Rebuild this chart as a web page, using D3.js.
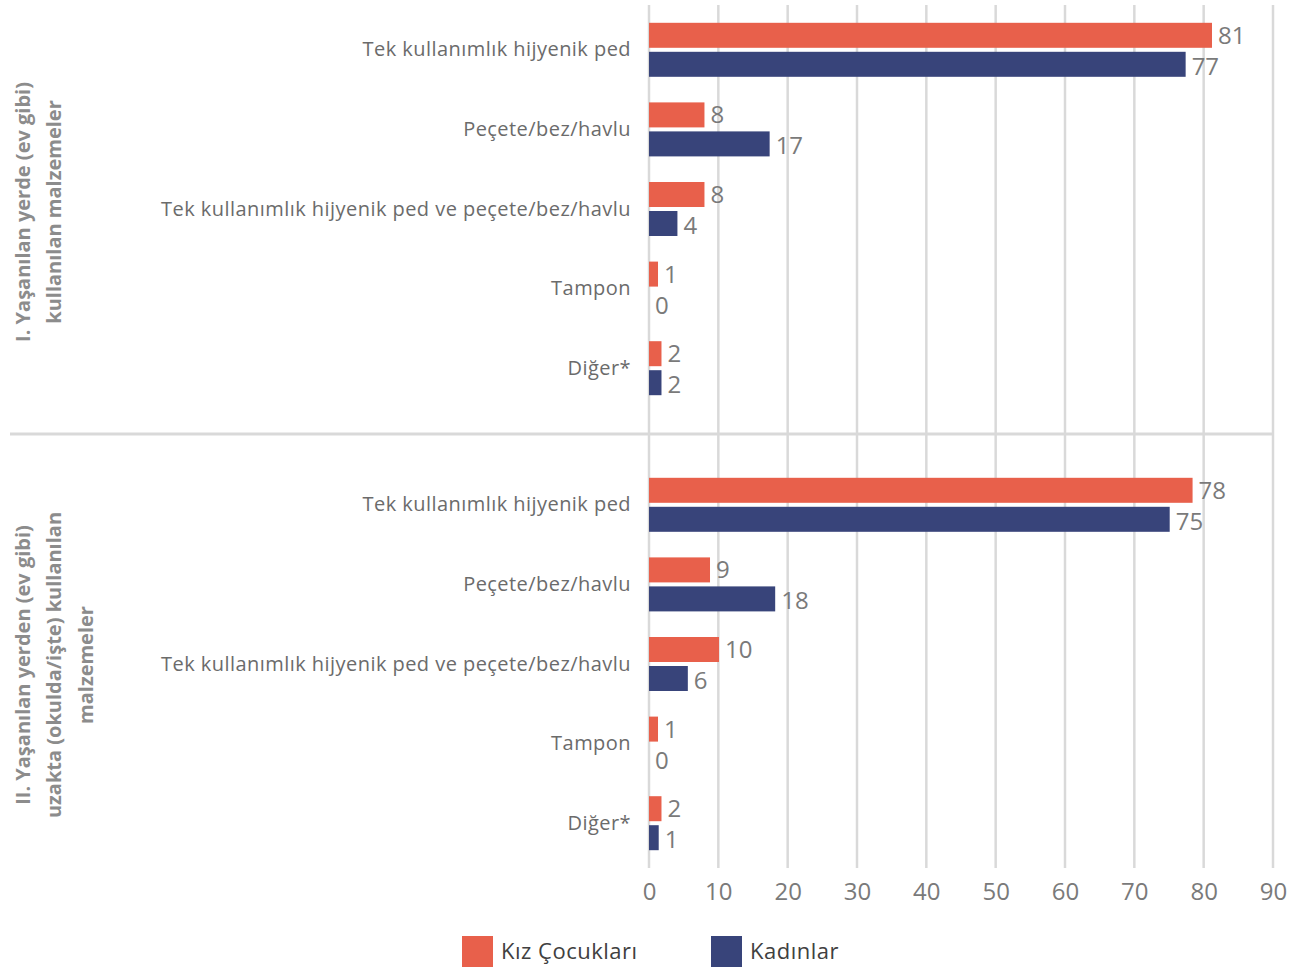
<!DOCTYPE html>
<html>
<head>
<meta charset="utf-8">
<script src="https://cdn.jsdelivr.net/npm/d3@7"></script>
<style>
  body { margin: 0; background: #fff; }
  svg text { font-family: "Open Sans", "Noto Sans", sans-serif; }
</style>
</head>
<body>
<svg id="chart" width="1304" height="968"></svg>
<script>
const categories = [
  'Tek kullanımlık hijyenik ped',
  'Peçete/bez/havlu',
  'Tek kullanımlık hijyenik ped ve peçete/bez/havlu',
  'Tampon',
  'Diğer*',
];
// I. at home
const girlsHome = [81.2, 8.0, 8.0, 1.3, 1.8];
const womenHome = [77.4, 17.4, 4.1, 0, 1.8];
// II. away from home
const girlsAway = [78.4, 8.8, 10.1, 1.3, 1.8];
const womenAway = [75.1, 18.2, 5.6, 0, 1.4];

const sectionTitles = [
  ['I. Yaşanılan yerde (ev gibi)', 'kullanılan malzemeler'],
  ['II. Yaşanılan yerden (ev gibi)', 'uzakta (okulda/işte) kullanılan', 'malzemeler'],
];
const seriesNames = ['Kız Çocukları', 'Kadınlar'];
const xTicks = [0, 10, 20, 30, 40, 50, 60, 70, 80, 90];

const colors = ['#E8604B', '#38447A'];
const grid = '#d9d9d9';

const svg = d3.select('#chart');

const x = d3.scaleLinear().domain([0, 90]).range([649, 1273]);
const plotTop = 5, plotBottom = 868, divider = 434;

const sections = [
  { girls: girlsHome, women: womenHome, range: [10, 408], title: sectionTitles[0], titleY: 212 },
  { girls: girlsAway, women: womenAway, range: [465, 863], title: sectionTitles[1], titleY: 665 },
];

// gridlines
svg.append('g')
  .selectAll('line')
  .data(xTicks)
  .join('line')
  .attr('x1', d => x(d))
  .attr('x2', d => x(d))
  .attr('y1', plotTop)
  .attr('y2', plotBottom)
  .attr('stroke', grid)
  .attr('stroke-width', 2.5);

// divider between the two sections
svg.append('line')
  .attr('x1', 10)
  .attr('x2', x(90))
  .attr('y1', divider)
  .attr('y2', divider)
  .attr('stroke', grid)
  .attr('stroke-width', 3);

const barH = 25, gap = 4;

sections.forEach(sec => {
  const y = d3.scaleBand().domain(categories).range(sec.range);
  const g = svg.append('g');

  const rows = categories.map((c, i) => ({ cat: c, vals: [sec.girls[i], sec.women[i]] }));

  g.selectAll('.cat')
    .data(categories)
    .join('text')
    .attr('class', 'cat')
    .attr('x', 631)
    .attr('y', d => y(d) + y.bandwidth() / 2 - 1)
    .attr('text-anchor', 'end')
    .attr('dominant-baseline', 'central')
    .attr('fill', '#6b6b6b')
    .style('font-size', '20px')
    .style('letter-spacing', '0.45px')
    .text(d => d);

  const bars = rows.flatMap(r => r.vals.map((v, k) => ({ cat: r.cat, v, k })));

  const barY = d => y(d.cat) + y.bandwidth() / 2 + (d.k === 0 ? -(barH + gap / 2) : gap / 2);

  g.selectAll('rect')
    .data(bars)
    .join('rect')
    .attr('x', x(0))
    .attr('y', barY)
    .attr('width', d => x(d.v) - x(0))
    .attr('height', barH)
    .attr('fill', d => colors[d.k]);

  g.selectAll('.val')
    .data(bars)
    .join('text')
    .attr('class', 'val')
    .attr('x', d => x(d.v) + 6)
    .attr('y', d => barY(d) + barH / 2 + (d.k === 0 ? -1 : 1))
    .attr('dominant-baseline', 'central')
    .attr('fill', '#7a7a7a')
    .style('font-size', '24px')
    .text(d => Math.round(d.v));

  // rotated section title
  const n = sec.title.length;
  const t = g.append('text')
    .attr('transform', `translate(${22 + (n - 1) * 31.5 / 2},${sec.titleY}) rotate(-90)`)
    .attr('text-anchor', 'middle')
    .attr('fill', '#8c8c8c')
    .style('font-size', '20px')
    .style('font-weight', 'bold');
  sec.title.forEach((line, i) => {
    t.append('tspan')
      .attr('x', 0)
      .attr('y', (i - (n - 1) / 2) * 31.5)
      .attr('dominant-baseline', 'central')
      .text(line);
  });
});

// x axis labels
const axis = svg.append('g')
  .attr('transform', `translate(0,${plotBottom})`)
  .call(d3.axisBottom(x).tickValues(xTicks).tickSize(0).tickPadding(15));
axis.select('.domain').remove();
axis.selectAll('text')
  .attr('fill', '#7a7a7a')
  .style('font-size', '24px')
  .style('font-family', '"Open Sans", "Noto Sans", sans-serif');

// legend
const legend = svg.append('g')
  .selectAll('g')
  .data(seriesNames)
  .join('g')
  .attr('transform', (d, i) => `translate(${462 + i * 249},936)`);
legend.append('rect')
  .attr('width', 31)
  .attr('height', 31)
  .attr('fill', (d, i) => colors[i]);
legend.append('text')
  .attr('x', 39)
  .attr('y', 14)
  .attr('dominant-baseline', 'central')
  .attr('fill', '#404040')
  .style('font-size', '22px')
  .style('letter-spacing', '0.5px')
  .text(d => d);
</script>
</body>
</html>
